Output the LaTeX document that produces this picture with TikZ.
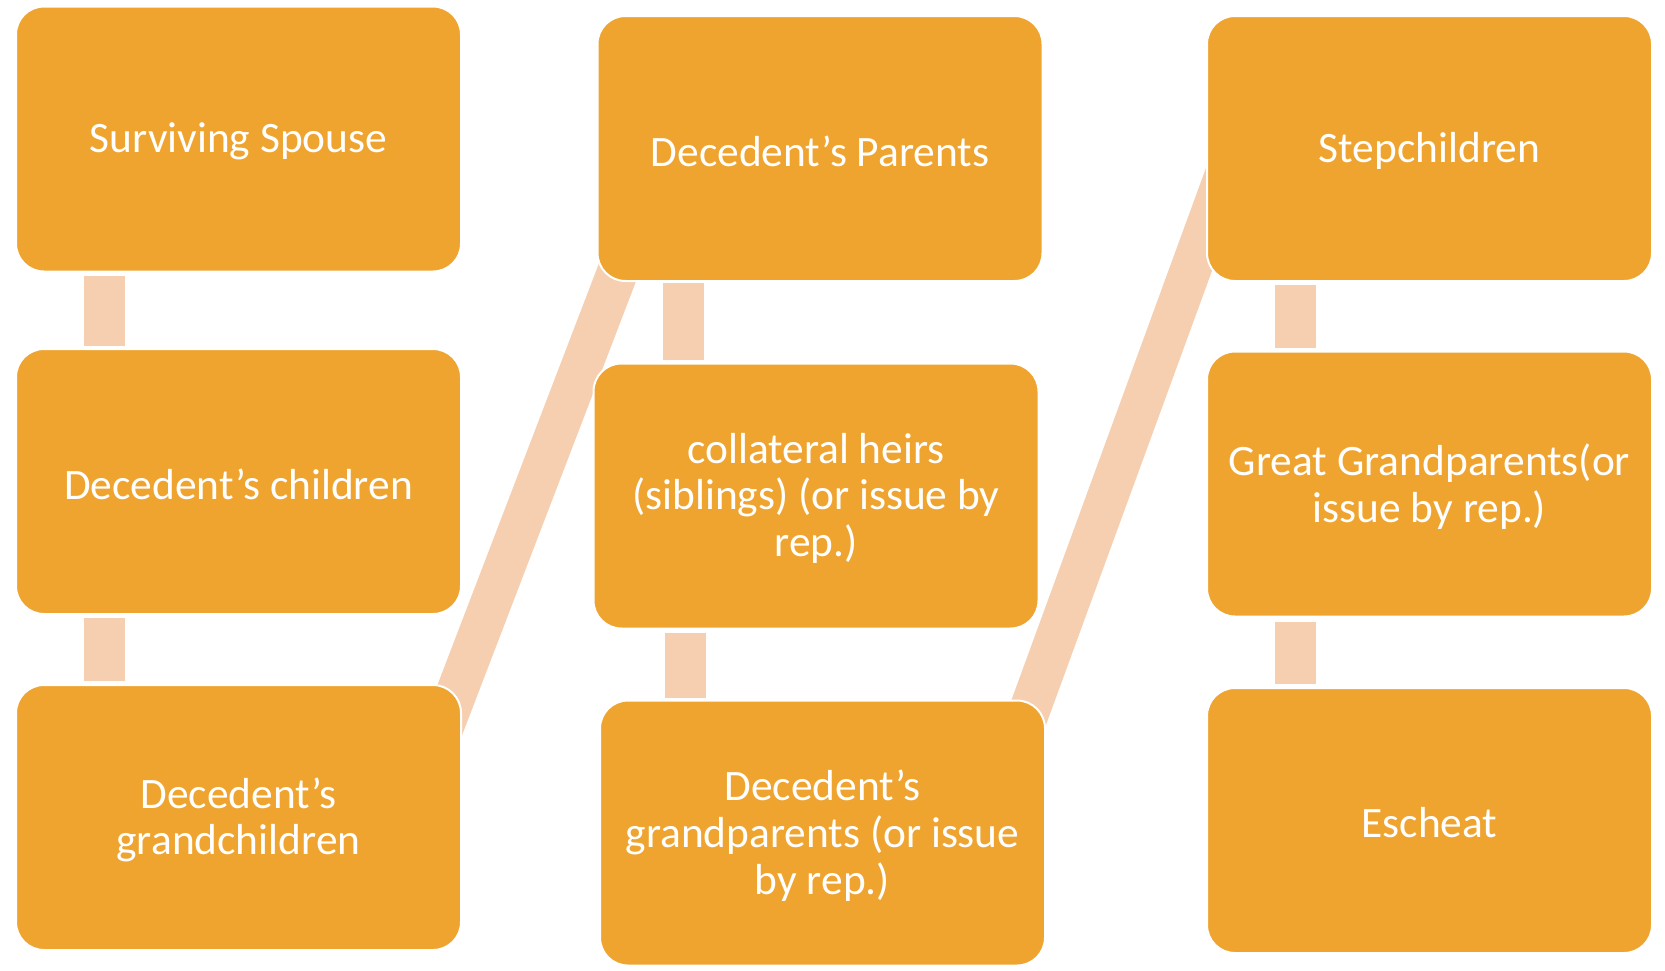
\documentclass[tikz,border=0pt]{standalone}
\usepackage{fontspec}
\setmainfont{Carlito}
\usetikzlibrary{calc,backgrounds}
\definecolor{boxfill}{HTML}{EFA430}
\definecolor{connfill}{HTML}{F6CFB0}
\begin{document}
\begin{tikzpicture}[x=0.5pt,y=-0.5pt,
  hbox/.style={draw=white, line width=1pt, fill=boxfill, rounded corners=14pt,
    minimum width=222.5pt, minimum height=132.5pt, inner sep=0pt, align=center,
    text=white, font=\fontsize{21.7pt}{23.4pt}\selectfont},
  lbl/.style={text=white, align=center, inner sep=0pt, yshift=-1.2pt,
    font=\fontsize{21.7pt}{23.4pt}\selectfont},
  link/.style={draw=connfill, line width=20.5pt}]
\useasboundingbox (0,0) rectangle (1665,970);

\node[hbox] (B1) at (238.5,139)    {};
\node[hbox] (B2) at (238.5,481.5) {};
\node[hbox] (B3) at (238.5,817.5) {};
\node[hbox] (B4) at (820,148.5)  {};
\node[hbox] (B5) at (816,496)    {};
\node[hbox] (B6) at (822.5,833)  {};
\node[hbox] (B7) at (1429.5,148.5) {};
\node[hbox] (B8) at (1429.5,484)   {};
\node[hbox] (B9) at (1429.5,820.5)   {};

\node[lbl] (T1) at (B1.center) {Surviving Spouse};
\node[lbl] (T2) at (B2.center) {Decedent’s children};
\node[lbl] (T3) at (B3.center) {Decedent’s\\grandchildren};
\node[lbl] (T4) at (B4.center) {Decedent’s Parents};
\node[lbl] (T5) at (B5.center) {collateral heirs\\(siblings) (or issue by\\rep.)};
\node[lbl] (T6) at (B6.center) {Decedent’s\\grandparents (or issue\\by rep.)};
\node[lbl] (T7) at (B7.center) {Stepchildren};
\node[lbl] (T8) at (B8.center) {Great Grandparents(or\\issue by rep.)};
\node[lbl] (T9) at (B9.center) {Escheat};

\begin{scope}[on background layer]
  \fill[white] (0,0) rectangle (1665,970);
  % vertical links
  \draw[link] ($(B1.south west)+(89.5,3)$) -- ($(B2.north west)+(89.5,-2)$);
  \draw[link] ($(B2.south west)+(89.5,3)$) -- ($(B3.north west)+(89.5,-3)$);
  \draw[link] ($(B4.south west)+(86.5,1)$) -- ($(B5.north west)+(90.5,-2.5)$);
  \draw[link] ($(B5.south west)+(93,3.5)$) -- ($(B6.north west)+(86.5,-1.5)$);
  \draw[link] ($(B7.south west)+(89.5,3)$) -- ($(B8.north west)+(89.5,-2.5)$);
  \draw[link] ($(B8.south west)+(89.5,4.5)$) -- ($(B9.north west)+(89.5,-3)$);
  % diagonal links
  \draw[link] ($(B3.north east)+(-31,75)$) -- ($(B4.south west)+(33,-41)$);
  \draw[link] ($(B6.north east)+(-27,39.5)$) -- ($(B7.south west)+(28,-131)$);
\end{scope}
\end{tikzpicture}
\end{document}
